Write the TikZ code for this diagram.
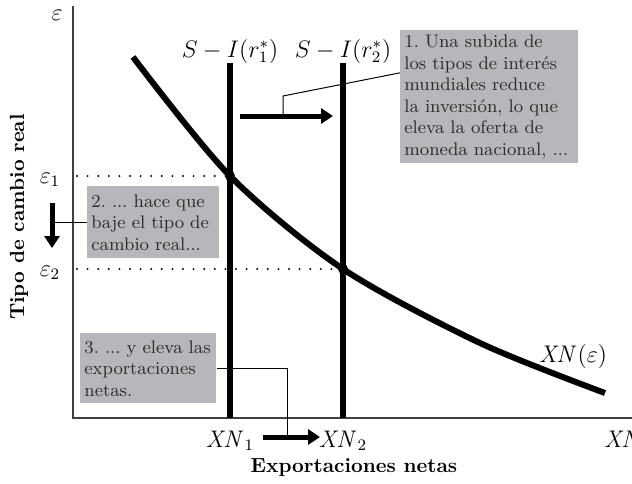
\documentclass[tikz,border=0pt]{standalone}
\usetikzlibrary{arrows.meta,calc}
\definecolor{notegray}{RGB}{181,183,186}
\definecolor{notetext}{RGB}{45,45,45}
\begin{document}
\frenchspacing
\begin{tikzpicture}[x=0.5pt, y=-0.5pt, every node/.style={font=\fontsize{12}{14}\selectfont},
  note/.style={fill=notegray,text=notetext,anchor=north west,align=left,inner xsep=2pt,inner ysep=1pt,font=\fontsize{9.1}{10.8}\selectfont},
  axis/.style={black!75,line width=0.8pt},
  schedule/.style={line width=2.6pt},
  guide/.style={line width=1.1pt,line cap=round,dash pattern=on 0pt off 5.3pt},
  shiftarrow/.style={line width=2.5pt,-{Triangle[length=6pt,width=7.5pt]}},
  lead/.style={line width=0.5pt},
  axtitle/.style={font=\fontsize{10.2}{12}\selectfont\bfseries}]
\clip (0,0) rectangle (632,483);
% axes
\coordinate (o) at (73,418);
\coordinate (ytop) at (73,6);
\coordinate (xend) at (632,418);
\draw[axis] (ytop) -- (o) -- (xend);
% savings minus investment
\coordinate (s1top) at (230,63); \coordinate (s1bot) at (230,418);
\coordinate (s2top) at (343,63); \coordinate (s2bot) at (343,418);
\draw[schedule] (s1top) -- (s1bot);
\draw[schedule] (s2top) -- (s2bot);
\node[anchor=base] (s1lab) at (230,57) {$S-I(r_1^*)$};
\node[anchor=base] (s2lab) at (343,57) {$S-I(r_2^*)$};
% net exports
\draw[line width=3pt] plot[smooth] coordinates {(133,57) (230,176) (343,269) (480,343) (605,393)};
\node[anchor=base] (xnlab) at (573,362) {$\mathit{XN}(\varepsilon)$};
% equilibria
\coordinate (eq1) at (230,176);
\coordinate (eq2) at (343,269);
\coordinate (e1) at (77,176);
\coordinate (e2) at (77,269);
\draw[guide] (e1) -- (eq1);
\draw[guide] (e2) -- (eq2);
\fill (eq1) circle (5);
\fill (eq2) circle (5);
% axis labels
\node (eps) at (57,15) {$\varepsilon$};
\node (eps1) at (50,180) {$\varepsilon_1$};
\node (eps2) at (50,273) {$\varepsilon_2$};
\node[anchor=base] (xn1) at (230,447) {$\mathit{XN}_1$};
\node[anchor=base] (xn2) at (343,447) {$\mathit{XN}_2$};
\node[anchor=base west] (xn) at (597,447) {$\mathit{XN}$};
\node[axtitle,anchor=base] (xtitle) at (354,472) {Exportaciones netas};
\node[axtitle,rotate=90] (ytitle) at (19,217) {Tipo de cambio real};
% shifts
\coordinate (a1s) at (240,116); \coordinate (a1e) at (333,116);
\coordinate (a2s) at (52,203); \coordinate (a2e) at (52,248);
\coordinate (a3s) at (263,437); \coordinate (a3e) at (320,437);
\draw[shiftarrow] (a1s) -- (a1e);
\draw[shiftarrow] (a2s) -- (a2e);
\draw[shiftarrow] (a3s) -- (a3e);
% notes
\node[note,text width=85pt,minimum height=66.5pt] (n1) at (400,30) {1. Una subida de\\los tipos de interés\\mundiales reduce\\la inversión, lo que\\eleva la oferta de\\moneda nacional, ...};
\node[note,text width=62pt,minimum height=36pt] (n2) at (87,186) {2. ... hace que\\baje el tipo de\\cambio real...};
\node[note,text width=64pt,minimum height=35pt] (n3) at (80,333) {3. ... y eleva las\\exportaciones\\netas.};
\coordinate (k1) at (283,96); \coordinate (k1e) at (283,116);
\coordinate (k3e) at (287,437);
\draw[lead] ($(n1.north west)!0.32!(n1.south west)$) -- (k1) -- (k1e);
\draw[lead] (n2.west) -- (n2.west -| a2s);
\draw[lead] (n3.east) -- (n3.east -| k3e) -- (k3e);
\end{tikzpicture}
\end{document}
